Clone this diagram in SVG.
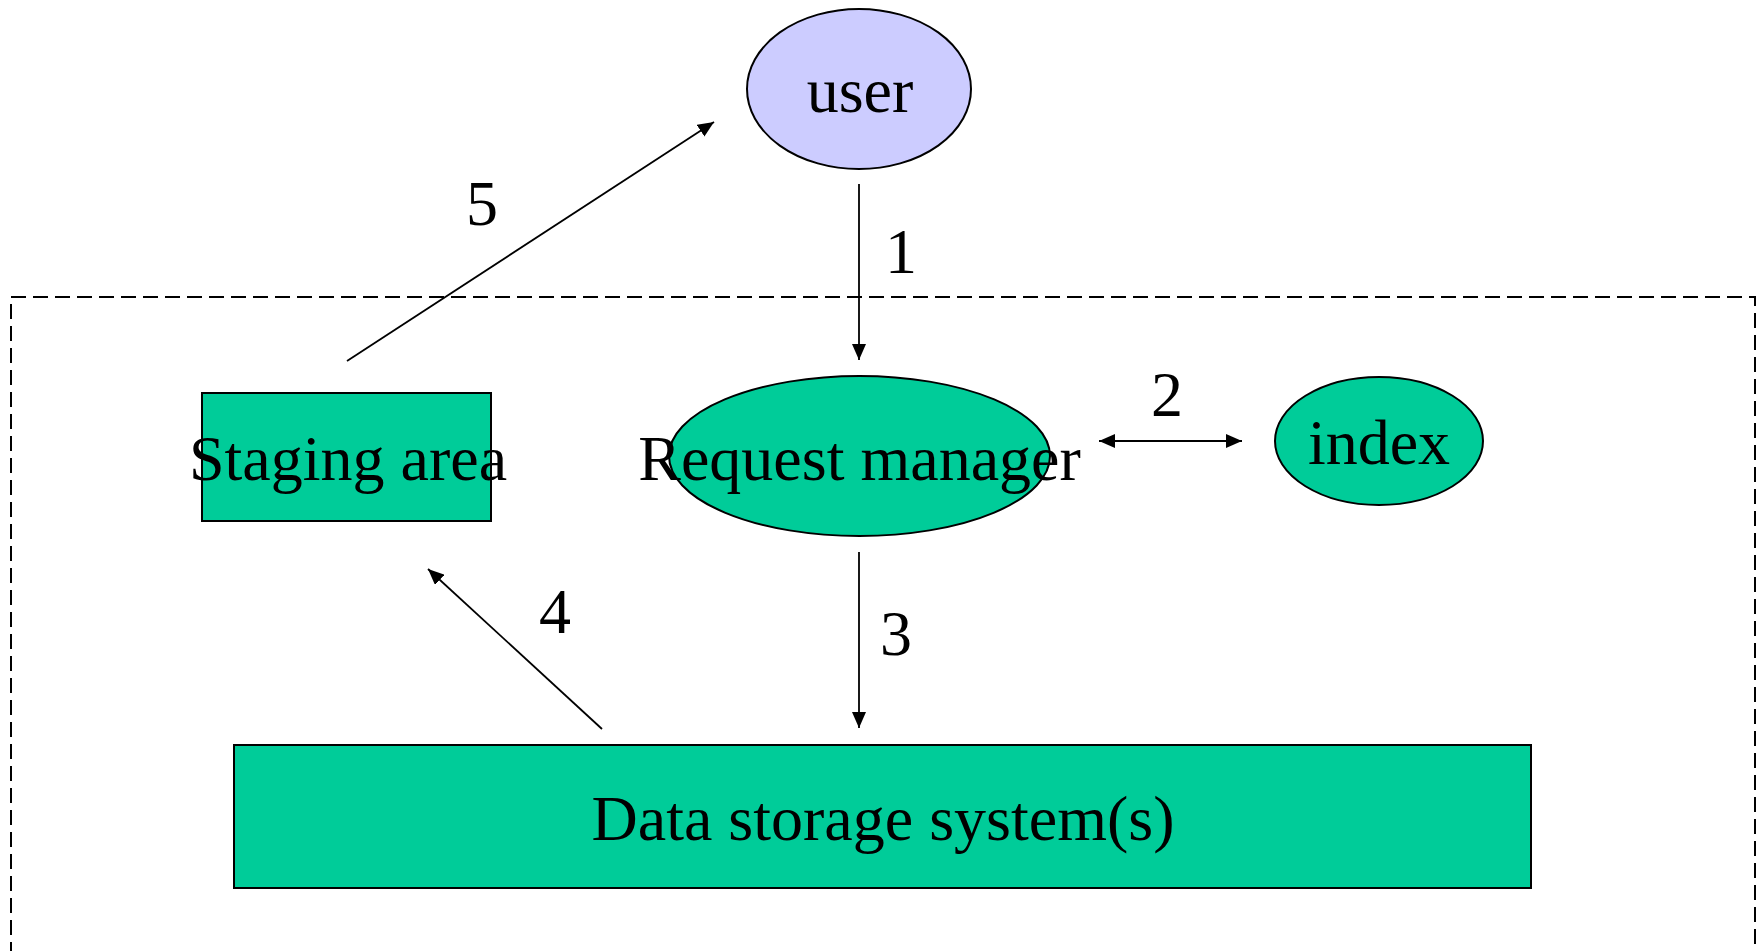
<svg xmlns="http://www.w3.org/2000/svg" width="1762" height="951" viewBox="0 0 1762 951">
  <style>
    .node { fill: #00CC99; stroke: #000; stroke-width: 2; }
    .user { fill: #CCCCFF; stroke: #000; stroke-width: 2; }
    .label { font-family: "Liberation Serif", "Times New Roman", serif; font-size: 64px; fill: #000; }
    .mid { text-anchor: middle; }
    .conn { stroke: #000; stroke-width: 1.8; fill: none; }
    .boundary { fill: none; stroke: #000; stroke-width: 2; stroke-dasharray: 15 7; }
  </style>
  <defs>
    <marker id="arrowEnd" markerUnits="userSpaceOnUse" markerWidth="16" markerHeight="14" refX="16" refY="7" orient="auto">
      <path d="M0,0 L16,7 L0,14 Z" fill="#000"/>
    </marker>
    <marker id="arrowStart" markerUnits="userSpaceOnUse" markerWidth="16" markerHeight="14" refX="0" refY="7" orient="auto">
      <path d="M16,0 L0,7 L16,14 Z" fill="#000"/>
    </marker>
  </defs>

  <rect width="1762" height="951" fill="#fff"/>

  <!-- system boundary -->
  <rect class="boundary" x="11" y="297" width="1744" height="720"/>

  <g id="user">
    <ellipse class="user" cx="859" cy="89" rx="112" ry="80"/>
    <text class="label mid" x="860" y="112">user</text>
  </g>

  <g id="staging-area">
    <rect class="node" x="202" y="393" width="289" height="128"/>
    <text class="label mid" x="348" y="480">Staging area</text>
  </g>

  <g id="request-manager">
    <ellipse class="node" cx="859.5" cy="456" rx="190.5" ry="80"/>
    <text class="label mid" x="859.5" y="480">Request manager</text>
  </g>

  <g id="index">
    <ellipse class="node" cx="1379" cy="441" rx="104" ry="64"/>
    <text class="label mid" x="1379" y="464">index</text>
  </g>

  <g id="data-storage">
    <rect class="node" x="234" y="745" width="1297" height="143"/>
    <text class="label mid" x="883" y="840">Data storage system(s)</text>
  </g>

  <g id="connectors">
    <line class="conn" x1="859" y1="184" x2="859" y2="360" marker-end="url(#arrowEnd)"/>
    <line class="conn" x1="1099" y1="441" x2="1242" y2="441" marker-start="url(#arrowStart)" marker-end="url(#arrowEnd)"/>
    <line class="conn" x1="859" y1="552" x2="859" y2="728" marker-end="url(#arrowEnd)"/>
    <line class="conn" x1="602" y1="729" x2="428" y2="569" marker-end="url(#arrowEnd)"/>
    <line class="conn" x1="347" y1="361" x2="714" y2="122" marker-end="url(#arrowEnd)"/>
    <text class="label" x="885" y="273">1</text>
    <text class="label" x="1151" y="416">2</text>
    <text class="label" x="880" y="655">3</text>
    <text class="label" x="539" y="633">4</text>
    <text class="label" x="466" y="225">5</text>
  </g>
</svg>
